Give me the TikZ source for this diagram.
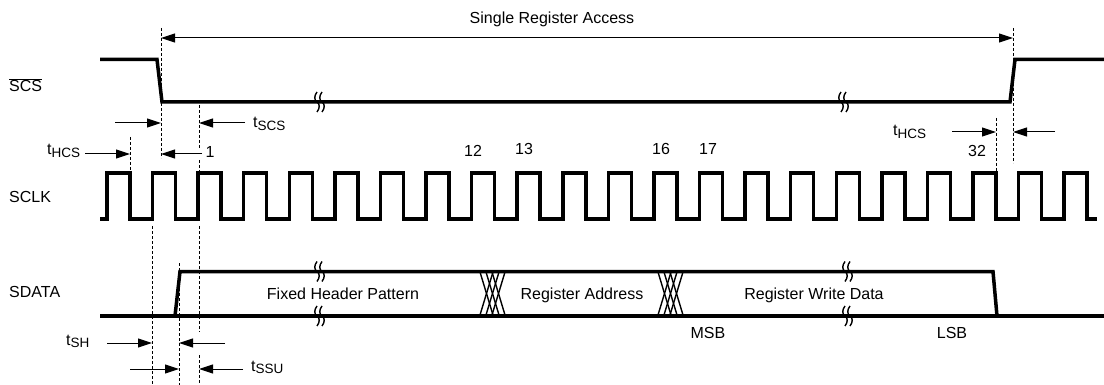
\documentclass[tikz,border=0pt]{standalone}
\usepackage{fontspec}
\setmainfont{Liberation Sans}
\usetikzlibrary{arrows.meta}
\newcommand\tmsub[1]{t\raisebox{-2.5pt}{\fontsize{13.5}{16}\selectfont #1}}
\begin{document}
\begin{tikzpicture}[x=1pt,y=-1pt,
  sig/.style={line width=3.5pt,line join=miter},
  guide/.style={line width=0.9pt,dash pattern=on 3pt off 2pt},
  tarrow/.style={line width=1pt,-{Triangle[length=14pt,width=9pt]}},
  darrow/.style={line width=1pt,{Triangle[length=14pt,width=9pt]}-{Triangle[length=14pt,width=9pt]}},
  lbl/.style={font=\fontsize{16}{19}\selectfont,inner sep=0pt,anchor=base},
  lblw/.style={lbl,anchor=base west},
  xline/.style={line width=1.4pt},
  brk/.pic={\draw[line width=1.4pt] (1,-10) .. controls (-2,-6) and (-2,-2) .. (1,0) .. controls (4,2) and (4,6) .. (1,10);
            \draw[line width=1.4pt] (6,-10) .. controls (3,-6) and (3,-2) .. (6,0) .. controls (9,2) and (9,6) .. (6,10);}
]
\useasboundingbox (0,0) rectangle (1104,385);

% signal names
\node[lblw] (nscs) at (9,92) {$\overline{\hbox{\fontsize{16}{19}\selectfont SCS}}$};
\node[lblw] (nsclk) at (9,203) {SCLK};
\node[lblw] (nsdata) at (9,297) {SDATA};

% SCS
\draw[sig] (100,59.5) -- (157,59.5) -- (162,102) -- (1010,102) -- (1015,59.5) -- (1104,59.5);
\pic at (316,102) {brk};
\pic at (840,102) {brk};

% SCLK
\draw[sig] (100,219) foreach \n in {0,...,21} {
  -- ({107+45.58*\n},219) -- ({107+45.58*\n},173) -- ({130+45.58*\n},173) -- ({130+45.58*\n},219) } -- (1097,219);

% SDATA
\draw[sig] (100,316) -- (1104,316);
\draw[sig] (175,316) -- (180,271.5) -- (993,271.5) -- (997,316);
\foreach \a in {480,486,492,658,664,670} {
  \draw[xline] (\a,272) -- (\a+13,315);
  \draw[xline] (\a+13,272) -- (\a,315);
}
\pic at (316,271.5) {brk};
\pic at (316,316) {brk};
\pic at (844,271.5) {brk};
\pic at (844,316) {brk};

% texts in SDATA
\node[lbl] (fhp) at (343,299) {Fixed Header Pattern};
\node[lbl] (ra) at (582,299) {Register Address};
\node[lbl] (rwd) at (814,299) {Register Write Data};
\node[lbl] (msb) at (708,338) {MSB};
\node[lbl] (lsb) at (952,338) {LSB};

% clock numbers
\node[lbl] (c1) at (210,158) {1};
\node[lbl] (c12) at (473,157) {12};
\node[lbl] (c13) at (524,155) {13};
\node[lbl] (c16) at (661,155) {16};
\node[lbl] (c17) at (708,155) {17};
\node[lbl] (c32) at (977,157) {32};

% guides
\draw[guide] (161,28) -- (161,158);
\draw[guide] (1013,28) -- (1013,163);
\draw[guide] (130,137) -- (130,173);
\draw[guide] (199,105) -- (199,148);
\draw[guide] (199,160) -- (199,173);
\draw[guide] (199,226) -- (199,332);
\draw[guide] (199,355) -- (199,385);
\draw[guide] (996,118) -- (996,173);
\draw[guide] (152,226) -- (152,385);
\draw[guide] (179,263) -- (179,385);

% Single Register Access
\node[lbl] (sra) at (552,24) {Single Register Access};
\draw[darrow] (161,38) -- (1013,38);

% tSCS
\draw[tarrow] (115,123) -- (161,123);
\draw[tarrow] (245,123) -- (199,123);
\node[lblw] (tscs) at (253,128) {\tmsub{SCS}};

% left tHCS
\node[lblw] (thcs1) at (47,155) {\tmsub{HCS}};
\draw[tarrow] (85,154) -- (130,154);
\draw[tarrow] (202,154) -- (161,154);

% right tHCS
\node[lblw] (thcs2) at (893,136) {\tmsub{HCS}};
\draw[tarrow] (952,132) -- (996,132);
\draw[tarrow] (1055,132) -- (1013,132);

% tSH
\node[lblw] (tsh) at (66,345) {\tmsub{SH}};
\draw[tarrow] (107,343) -- (152,343);
\draw[tarrow] (225,343) -- (179,343);

% tSSU
\draw[tarrow] (130,369) -- (179,369);
\draw[tarrow] (243,369) -- (199,369);
\node[lblw] (tssu) at (251,371) {\tmsub{SSU}};
\end{tikzpicture}
\end{document}
